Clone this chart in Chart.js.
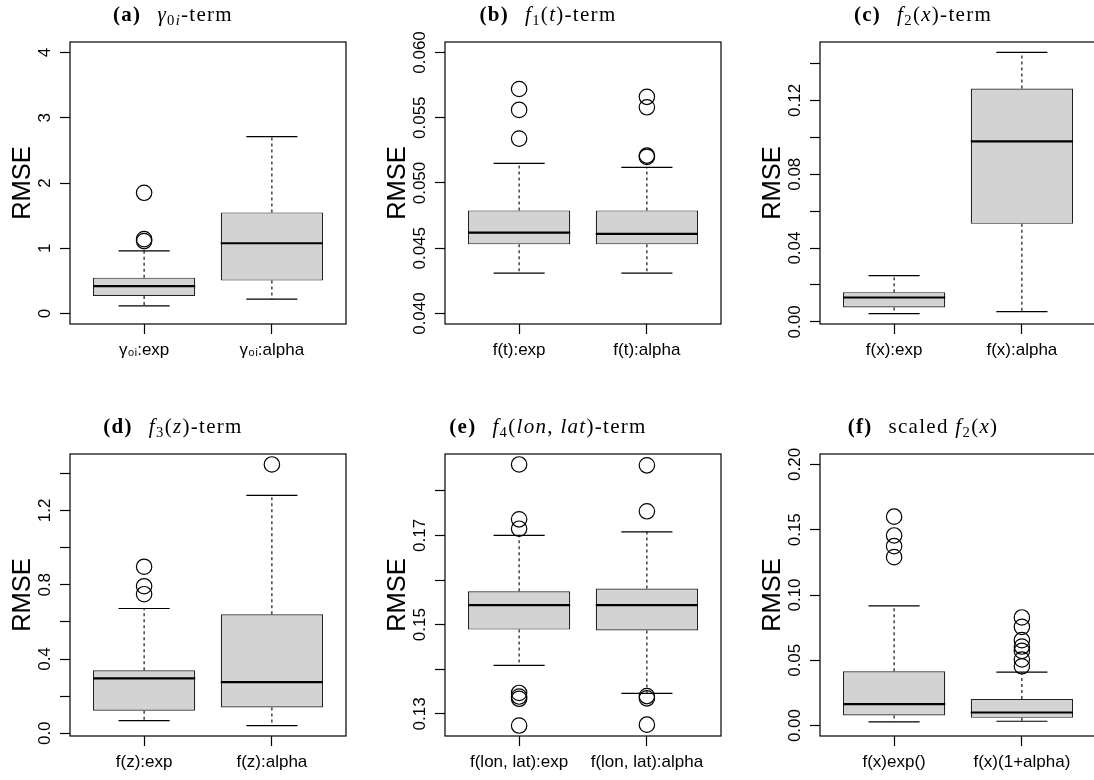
<!DOCTYPE html>
<html>
<head>
<meta charset="utf-8">
<title>RMSE boxplots</title>
<script src="https://cdn.jsdelivr.net/npm/chart.js@4.4.1/dist/chart.umd.min.js"></script>
<style>
  html, body { margin: 0; padding: 0; background: #fff; width: 1094px; height: 780px; overflow: hidden; }
  .panel { position: absolute; width: 375px; height: 412px; }
  .panel canvas { position: absolute; left: 0; top: 0; }
  .cap { position: absolute; left: 23px; top: 2px; width: 300px; text-align: center; white-space: nowrap;
         font: 21px/24px "Liberation Serif", "DejaVu Serif", serif; letter-spacing: 1.3px; color: #000; }
  .cap b { margin-right: 16px; }
  .cap sub { font-size: 70%; line-height: 0; vertical-align: -0.25em; }
</style>
</head>
<body>
<div class="panel" style="left:0;top:0"><canvas id="pa" width="375" height="412"></canvas>
  <div class="cap"><b>(a)</b><i>γ</i><sub>0<i>i</i></sub>-term</div></div>
<div class="panel" style="left:375px;top:0"><canvas id="pb" width="375" height="412"></canvas>
  <div class="cap"><b>(b)</b><i>f</i><sub>1</sub>(<i>t</i>)-term</div></div>
<div class="panel" style="left:750px;top:0"><canvas id="pc" width="375" height="412"></canvas>
  <div class="cap"><b>(c)</b><i>f</i><sub>2</sub>(<i>x</i>)-term</div></div>
<div class="panel" style="left:0;top:412px"><canvas id="pd" width="375" height="412"></canvas>
  <div class="cap"><b>(d)</b><i>f</i><sub>3</sub>(<i>z</i>)-term</div></div>
<div class="panel" style="left:375px;top:412px"><canvas id="pe" width="375" height="412"></canvas>
  <div class="cap"><b>(e)</b><i>f</i><sub>4</sub>(<i>lon</i>, <i>lat</i>)-term</div></div>
<div class="panel" style="left:750px;top:412px"><canvas id="pf" width="375" height="412"></canvas>
  <div class="cap"><b>(f)</b>scaled <i>f</i><sub>2</sub>(<i>x</i>)</div></div>

<script>
// Panel ids (canvas "p" + id), one boxplot pair per panel
const panelIds = ['a', 'b', 'c', 'd', 'e', 'f'];

const categories = [
  ['γ₀ᵢ:exp', 'γ₀ᵢ:alpha'],
  ['f(t):exp', 'f(t):alpha'],
  ['f(x):exp', 'f(x):alpha'],
  ['f(z):exp', 'f(z):alpha'],
  ['f(lon, lat):exp', 'f(lon, lat):alpha'],
  ['f(x)exp()', 'f(x)(1+alpha)']
];

// Boxplot statistics, [exp, alpha] per panel
const whiskerLow  = [[0.118, 0.22], [0.0431, 0.0431], [0.0045, 0.0056], [0.068, 0.0415], [0.1409, 0.1346], [0.0028, 0.0033]];
const quartile1   = [[0.27, 0.505], [0.0453, 0.0453], [0.0078, 0.0531], [0.121, 0.1385], [0.1489, 0.1487], [0.0077, 0.0059]];
const medians     = [[0.42, 1.077], [0.0462, 0.0461], [0.0132, 0.0978], [0.296, 0.275], [0.1544, 0.1544], [0.0164, 0.0100]];
const quartile3   = [[0.55, 1.55], [0.0479, 0.0479], [0.0161, 0.1265], [0.339, 0.641], [0.1575, 0.1581], [0.0416, 0.0204]];
const whiskerHigh = [[0.96, 2.71], [0.0515, 0.0512], [0.0251, 0.146], [0.672, 1.281], [0.1700, 0.1708], [0.0917, 0.0409]];
const outliers = [
  [[1.85, 1.14, 1.11], []],
  [[0.0572, 0.0556, 0.0534], [0.0566, 0.0558, 0.0521, 0.0520]],
  [[], []],
  [[0.897, 0.792, 0.749], [1.448]],
  [[0.1859, 0.1736, 0.1715, 0.1347, 0.1339, 0.1334, 0.1274], [0.1857, 0.1754, 0.1340, 0.1335, 0.1276]],
  [[0.160, 0.1456, 0.1374, 0.129], [0.0828, 0.0756, 0.0654, 0.0605, 0.0572, 0.0506, 0.0454]]
];

// fixed ylim where one was given, otherwise taken from the data
const yLimits = [[0, 4], [0.04, 0.06], null, null, null, [0, 0.2]];

const yTicks = [
  [0, 1, 2, 3, 4],
  [0.040, 0.045, 0.050, 0.055, 0.060],
  [0, 0.02, 0.04, 0.06, 0.08, 0.10, 0.12, 0.14],
  [0, 0.2, 0.4, 0.6, 0.8, 1.0, 1.2, 1.4],
  [0.13, 0.14, 0.15, 0.16, 0.17, 0.18],
  [0, 0.05, 0.10, 0.15, 0.20]
];
const yTickLabels = [
  ['0', '1', '2', '3', '4'],
  ['0.040', '0.045', '0.050', '0.055', '0.060'],
  ['0.00', '', '0.04', '', '0.08', '', '0.12', ''],
  ['0.0', '', '0.4', '', '0.8', '', '1.2', ''],
  ['0.13', '', '0.15', '', '0.17', ''],
  ['0.00', '0.05', '0.10', '0.15', '0.20']
];

const SANS = '"Liberation Sans", Arial, Helvetica, sans-serif';
const TICK_FONT = { family: SANS, size: 17 };
const BOX_WEX = 0.8;        // box width in x units
const STAPLE = 0.5;         // whisker cap width relative to the box
const LINE = '#000';

// R style axis range: limits widened by 4 %
function extendRange(lo, hi) {
  const d = (hi - lo) * 0.04;
  return [lo - d, hi + d];
}

const measureCtx = document.createElement('canvas').getContext('2d');
function widestLabel(labels) {
  measureCtx.font = TICK_FONT.size + 'px ' + SANS;
  return Math.max.apply(null, labels.map(function (s) { return measureCtx.measureText(s).width; }));
}

// frame round the plot region
const plotFrame = {
  id: 'plotFrame',
  afterDatasetsDraw: function (chart) {
    const a = chart.chartArea;
    const ctx = chart.ctx;
    ctx.save();
    ctx.strokeStyle = LINE;
    ctx.lineWidth = 1.2;
    ctx.strokeRect(a.left, a.top, a.right - a.left, a.bottom - a.top);
    ctx.restore();
  }
};

function buildPanel(p) {
  const cats = categories[p];
  const gap = function (x) { return { x: x, y: null }; };

  const boxes = [], whiskers = [], caps = [], meds = [], outs = [];
  cats.forEach(function (c, i) {
    const x = i + 1;
    const hw = BOX_WEX / 2, cw = BOX_WEX * STAPLE / 2;
    boxes.push({ x: x, y: [quartile1[p][i], quartile3[p][i]] });
    whiskers.push({ x: x, y: quartile3[p][i] }, { x: x, y: whiskerHigh[p][i] }, gap(x),
                  { x: x, y: quartile1[p][i] }, { x: x, y: whiskerLow[p][i] }, gap(x));
    caps.push({ x: x - cw, y: whiskerHigh[p][i] }, { x: x + cw, y: whiskerHigh[p][i] }, gap(x),
              { x: x - cw, y: whiskerLow[p][i] }, { x: x + cw, y: whiskerLow[p][i] }, gap(x));
    meds.push({ x: x - hw, y: medians[p][i] }, { x: x + hw, y: medians[p][i] }, gap(x));
    outliers[p][i].forEach(function (v) { outs.push({ x: x, y: v }); });
  });

  let lim = yLimits[p];
  if (!lim) {
    const all = [].concat(whiskerLow[p], whiskerHigh[p], outliers[p][0], outliers[p][1]);
    lim = [Math.min.apply(null, all), Math.max.apply(null, all)];
  }
  const yRange = extendRange(lim[0], lim[1]);
  const xRange = extendRange(0.5, cats.length + 0.5);
  const labels = yTickLabels[p];
  // rotated labels sit centred 25px left of the plot edge
  const yPad = 15 - widestLabel(labels) / 2;

  const tickGrid = {
    display: true, drawOnChartArea: false, drawTicks: true,
    tickLength: 10, tickColor: LINE, tickWidth: 1.2, offset: false
  };

  return new Chart(document.getElementById('p' + panelIds[p]), {
    type: 'bar',
    data: {
      datasets: [
        {
          type: 'scatter', data: outs, order: 0,
          pointRadius: 7.7, pointHoverRadius: 7.7, pointStyle: 'circle',
          pointBackgroundColor: 'rgba(0,0,0,0)', pointBorderColor: LINE, pointBorderWidth: 1.2
        },
        {
          type: 'line', data: meds, order: 1,
          borderColor: LINE, borderWidth: 2.2, pointRadius: 0, spanGaps: false, tension: 0
        },
        {
          type: 'line', data: caps, order: 2,
          borderColor: LINE, borderWidth: 1.2, pointRadius: 0, spanGaps: false, tension: 0
        },
        {
          type: 'line', data: whiskers, order: 3,
          borderColor: LINE, borderWidth: 1.1, borderDash: [3, 3], pointRadius: 0, spanGaps: false, tension: 0
        },
        {
          type: 'bar', data: boxes, order: 4,
          backgroundColor: '#d3d3d3', borderColor: '#222', borderWidth: 1.2, borderSkipped: false,
          barPercentage: BOX_WEX, categoryPercentage: 1
        }
      ]
    },
    options: {
      responsive: false,
      animation: false,
      events: [],
      clip: false,
      layout: { padding: { top: 42, right: 29, left: 0, bottom: 0 } },
      plugins: { legend: { display: false }, tooltip: { enabled: false } },
      scales: {
        x: {
          type: 'linear', min: xRange[0], max: xRange[1], offset: false,
          afterBuildTicks: function (s) { s.ticks = cats.map(function (c, i) { return { value: i + 1 }; }); },
          afterFit: function (s) { s.height = 88; },
          ticks: {
            autoSkip: false, maxRotation: 0, padding: 6, color: LINE, font: TICK_FONT,
            callback: function (v) { return cats[v - 1]; }
          },
          grid: tickGrid,
          border: { display: false }
        },
        y: {
          type: 'linear', min: yRange[0], max: yRange[1], beginAtZero: false,
          afterBuildTicks: function (s) { s.ticks = yTicks[p].map(function (v) { return { value: v }; }); },
          afterFit: function (s) { s.width = 70; },
          ticks: {
            autoSkip: false, minRotation: 90, maxRotation: 90, crossAlign: 'center',
            padding: yPad, color: LINE, font: TICK_FONT,
            callback: function (v, i) { return labels[i]; }
          },
          grid: tickGrid,
          border: { display: false },
          title: {
            display: true, text: 'RMSE', color: LINE,
            font: { family: SANS, size: 25.5, lineHeight: 1 },
            padding: { top: 10, bottom: 0 }
          }
        }
      }
    },
    plugins: [plotFrame]
  });
}

panelIds.forEach(function (id, p) { buildPanel(p); });
</script>
</body>
</html>
